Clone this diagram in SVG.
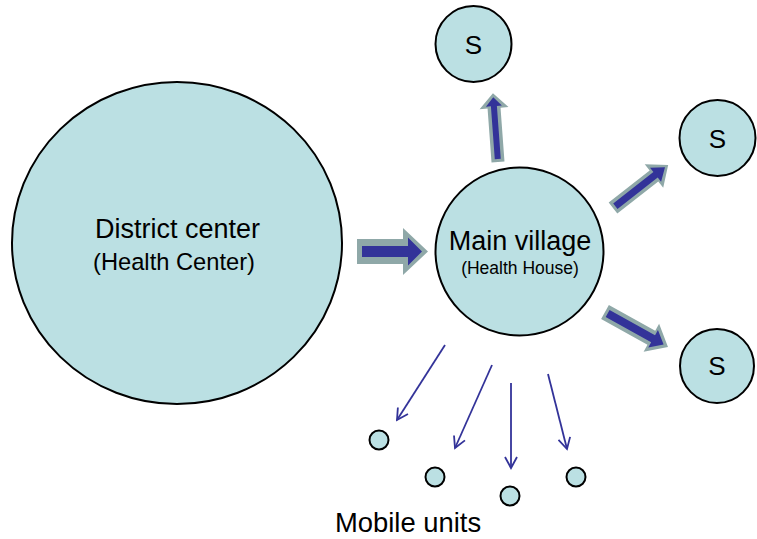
<svg xmlns="http://www.w3.org/2000/svg" width="757" height="539" viewBox="0 0 757 539">
<defs>
<style>
.node{fill:#BBE0E3;stroke:#000;stroke-width:2}
.t{font-family:"Liberation Sans",Arial,sans-serif;fill:#000;text-anchor:middle}
.bo{fill:#8FA8A8}
.bi{fill:#333399}
.thin{stroke:#333399;stroke-width:1.8;fill:none;marker-end:url(#open)}
</style>
<marker id="open" viewBox="0 0 14 14" refX="12" refY="7" markerWidth="14" markerHeight="14" markerUnits="userSpaceOnUse" orient="auto">
<path d="M1,1 L12,7 L1,13" fill="none" stroke="#333399" stroke-width="1.8"/>
</marker>
</defs>
<rect width="757" height="539" fill="#fff"/>
<g id="district">
<ellipse class="node" cx="177" cy="243" rx="165" ry="161"/>
<text class="t" x="177.5" y="238" font-size="27">District center</text>
<text class="t" x="174" y="270" font-size="23.7">(Health Center)</text>
</g>
<g id="main">
<circle class="node" cx="519.5" cy="251.5" r="84"/>
<text class="t" x="520" y="250" font-size="27">Main village</text>
<text class="t" x="520" y="274" font-size="17.5">(Health House)</text>
</g>
<g id="s1">
<circle class="node" cx="473.5" cy="44" r="38"/>
<text class="t" x="473.5" y="54" font-size="26">S</text>
</g>
<g id="s2">
<circle class="node" cx="717.5" cy="138" r="38"/>
<text class="t" x="717.5" y="148" font-size="26">S</text>
</g>
<g id="s3">
<circle class="node" cx="717" cy="366" r="37"/>
<text class="t" x="717" y="375" font-size="26">S</text>
</g>
<g id="m1"><circle class="node" cx="379" cy="440" r="9.5"/></g>
<g id="m2"><circle class="node" cx="435" cy="477" r="9.5"/></g>
<g id="m3"><circle class="node" cx="510" cy="496" r="9.5"/></g>
<g id="m4"><circle class="node" cx="576" cy="477" r="9.5"/></g>
<g id="mobile-label">
<text class="t" x="408" y="532" font-size="27.4">Mobile units</text>
</g>
<g id="connectors">
<g transform="translate(357,251.5)">
<path class="bo" d="M0,-12.5 L46,-12.5 L46,-23.5 L71,0 L46,23.5 L46,12.5 L0,12.5 Z"/>
<path class="bi" d="M5,-5.5 L51,-5.5 L51,-14 L65,0 L51,14 L51,5.5 L5,5.5 Z"/>
</g>
<g transform="translate(498,162) rotate(-94.2)">
<path class="bo" d="M0,-6.5 L54,-6.5 L54,-14.5 L69,0 L54,14.5 L54,6.5 L0,6.5 Z"/>
<path class="bi" d="M3,-3 L56,-3 L56,-8 L65,0 L56,8 L56,3 L3,3 Z"/>
</g>
<g transform="translate(613,208) rotate(-38)">
<path class="bo" d="M0,-7 L52,-7 L52,-15 L70,0 L52,15 L52,7 L0,7 Z"/>
<path class="bi" d="M3,-3.5 L54,-3.5 L54,-9 L66,0 L54,9 L54,3.5 L3,3.5 Z"/>
</g>
<g transform="translate(605,312) rotate(29)">
<path class="bo" d="M0,-8 L53,-8 L53,-16 L72,0 L53,16 L53,8 L0,8 Z"/>
<path class="bi" d="M3,-4 L55,-4 L55,-10 L67,0 L55,10 L55,4 L3,4 Z"/>
</g>
<line class="thin" x1="445" y1="345" x2="397" y2="420"/>
<line class="thin" x1="492" y1="365" x2="455" y2="448"/>
<line class="thin" x1="511" y1="383" x2="511" y2="468"/>
<line class="thin" x1="548" y1="374" x2="567" y2="449"/>
</g>
</svg>
